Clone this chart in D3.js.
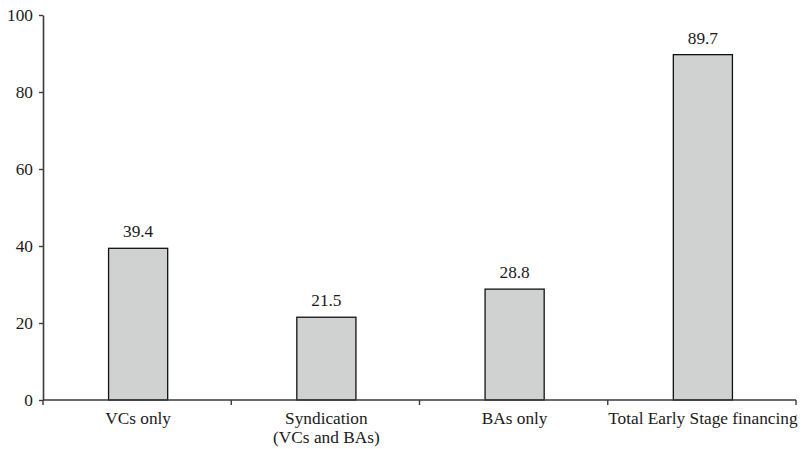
<!DOCTYPE html>
<html>
<head>
<meta charset="utf-8">
<script src="https://cdn.jsdelivr.net/npm/d3@7"></script>
<style>
  html, body { margin: 0; padding: 0; background: #fff; }
  svg { display: block; }
</style>
</head>
<body>
<svg id="chart" width="804" height="449"></svg>
<script>
// Early stage financing by investor type
const categories = ["VCs only", "Syndication\n(VCs and BAs)", "BAs only", "Total Early Stage financing"];
const values = [39.4, 21.5, 28.8, 89.7];
const yTicks = [0, 20, 40, 60, 80, 100];

const svg = d3.select("#chart");
const margin = { left: 43, right: 8, top: 15, bottom: 49 };
const W = 804, H = 449;
const fontSize = 17.3;
const fontFamily = "Liberation Serif";
const textColor = "#1a1a1a";

const x = d3.scaleBand()
  .domain(categories)
  .range([margin.left, W - margin.right])
  .padding(0);

const y = d3.scaleLinear()
  .domain([0, 100])
  .range([H - margin.bottom, margin.top]);

const barW = x.bandwidth() * 0.314;
const axisColor = "#3a3a3a";

// bars
svg.append("g").selectAll("rect")
  .data(values)
  .join("rect")
  .attr("x", (d, i) => x(categories[i]) + x.bandwidth() / 2 - barW / 2 + 1)
  .attr("y", d => y(d))
  .attr("width", barW)
  .attr("height", d => y(0) - y(d))
  .attr("fill", "#d0d2d1")
  .attr("stroke", "#111")
  .attr("stroke-width", 1.3);

// value labels
svg.append("g").selectAll("text")
  .data(values)
  .join("text")
  .attr("x", (d, i) => x(categories[i]) + x.bandwidth() / 2 + 1)
  .attr("y", d => y(d) - 11)
  .attr("text-anchor", "middle")
  .attr("font-family", fontFamily)
  .attr("font-size", fontSize)
  .attr("fill", textColor)
  .text(d => d.toFixed(1));

// y axis
const yAxis = svg.append("g")
  .attr("transform", `translate(${margin.left},0)`)
  .call(d3.axisLeft(y).tickValues(yTicks).tickSize(4).tickSizeOuter(0).tickPadding(6));
yAxis.attr("font-family", fontFamily).attr("font-size", fontSize);
yAxis.select(".domain").attr("stroke", axisColor).attr("stroke-width", 1.6);
yAxis.selectAll(".tick line").attr("stroke", axisColor).attr("stroke-width", 1.4);
yAxis.selectAll(".tick text")
  .attr("font-family", fontFamily)
  .attr("font-size", fontSize)
  .attr("fill", textColor);

// x axis: ticks sit at the band boundaries
const xAxisG = svg.append("g").attr("transform", `translate(0,${y(0)})`);
xAxisG.append("line")
  .attr("x1", margin.left).attr("x2", W - margin.right)
  .attr("stroke", axisColor).attr("stroke-width", 1.6);
const bounds = categories.map(c => x(c)).concat([x(categories[categories.length - 1]) + x.bandwidth()]);
xAxisG.selectAll("line.tk")
  .data(bounds)
  .join("line")
  .attr("class", "tk")
  .attr("x1", d => d).attr("x2", d => d)
  .attr("y1", 0).attr("y2", 5)
  .attr("stroke", axisColor).attr("stroke-width", 1.4);

// category labels (multi-line)
const lab = xAxisG.selectAll("text.cat")
  .data(categories)
  .join("text")
  .attr("class", "cat")
  .attr("text-anchor", "middle")
  .attr("font-family", fontFamily)
  .attr("font-size", fontSize)
  .attr("fill", textColor)
  .attr("transform", d => `translate(${x(d) + x.bandwidth() / 2 + 1},24)`);
lab.selectAll("tspan")
  .data(d => d.split("\n"))
  .join("tspan")
  .attr("x", 0)
  .attr("dy", (d, i) => i === 0 ? 0 : 18.5)
  .text(d => d);
</script>
</body>
</html>
